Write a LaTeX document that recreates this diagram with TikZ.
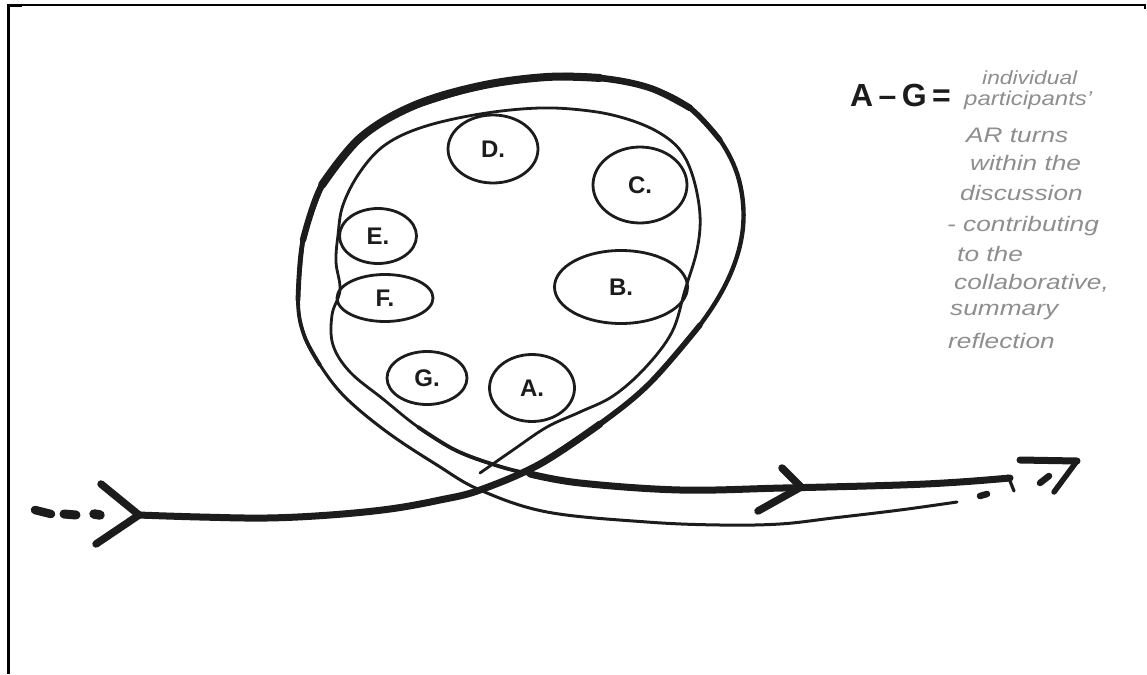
\documentclass[tikz,border=0pt]{standalone}
\usepackage{fontspec}
\setmainfont{Liberation Sans}
\usetikzlibrary{shapes.geometric}
\definecolor{ink}{HTML}{1C1C1C}
\definecolor{pencil}{HTML}{8E8E8E}
\tikzset{
  strand/.style={draw=ink, line cap=round, line join=round},
  person/.style={ellipse, draw=ink, line width=2.8pt, inner sep=0pt,
     font=\fontsize{24}{26}\selectfont\bfseries, text=ink},
  handtext/.style={anchor=west, text=pencil, inner sep=0pt,
     font=\fontsize{21}{22}\selectfont\itshape},
  keytext/.style={anchor=west, text=ink, inner sep=0pt,
     font=\fontsize{32}{34}\selectfont\bfseries},
  frame/.style={draw=black, line cap=butt}
}
\begin{document}
\begin{tikzpicture}[x=1pt,y=-1pt]
\useasboundingbox (0,0) rectangle (1147,674);
\fill[white] (0,0) rectangle (1147,674);
% frame
\draw[frame, line width=1.6pt] (7,5) -- (1146,5);
\draw[frame, line width=3pt] (8,4) -- (8,674);
\draw[frame, line width=2.6pt] (7,6) -- (22,6);
\draw[frame, line width=2pt] (1145,4) -- (1145,9);

% participants
\node[person, minimum width=90pt, minimum height=68pt] (D) at (493,149) {D.};
\node[person, minimum width=94pt, minimum height=76pt] (C) at (640,185) {C.};
\node[person, minimum width=77pt, minimum height=55pt] (E) at (378,236) {E.};
\node[person, minimum width=96pt, minimum height=47pt] (F) at (385,298) {F.};
\node[person, minimum width=133pt, minimum height=73pt] (B) at (621,287) {B.};
\node[person, minimum width=80pt, minimum height=53pt] (G) at (427,378) {G.};
\node[person, minimum width=85pt, minimum height=67pt] (A) at (532,388) {A.};

% outer strand (whole, thin)
\draw[strand, line width=3pt] plot[smooth, tension=0.6] coordinates {
 (138,515) (200,517) (267,518) (330,515) (390,509) (440,500) (480,490)
 (540,464) (600,424) (650,383) (700,325) (730,275) (743,227) (739,180)
 (720,140) (690,108) (650,88) (600,78) (547,77) (480,86) (413,106)
 (360,138) (322,185) (303,240) (298,300) (304,335) (320,365) (345,397)
 (387,432) (437,465) (480,490) (547,512) (647,522) (720,525) (780,524)
 (833,518) (900,510) (957,502)};
% thick horizontal part and rise
\draw[strand, line width=7pt] plot[smooth, tension=0.6] coordinates {
 (138,515) (200,517) (267,518) (330,515) (390,509) (440,500) (480,490)
 (540,464) (600,424)};
\draw[strand, line width=5.6pt] plot[smooth, tension=0.6] coordinates {
 (540,464) (600,424) (650,383) (700,325)};
\draw[strand, line width=4.4pt] plot[smooth, tension=0.6] coordinates {
 (650,383) (700,325) (730,275) (743,227) (739,180) (720,140) (690,108)};
% thick top-left
\draw[strand, line width=5.4pt] plot[smooth, tension=0.6] coordinates {
 (720,140) (690,108) (650,88) (600,78) (547,77) (480,86)};
\draw[strand, line width=6.6pt] plot[smooth, tension=0.6] coordinates {
 (690,108) (650,88) (600,78) (547,77) (480,86) (413,106)};
\draw[strand, line width=8pt] plot[smooth, tension=0.6] coordinates {
 (600,78) (547,77) (480,86) (413,106) (360,138) (322,185)};
\draw[strand, line width=6.4pt] plot[smooth, tension=0.6] coordinates {
 (360,138) (322,185) (303,240)};
\draw[strand, line width=4.8pt] plot[smooth, tension=0.6] coordinates {
 (322,185) (303,240) (298,300)};
\draw[strand, line width=3.8pt] plot[smooth, tension=0.6] coordinates {
 (303,240) (298,300) (304,335) (320,365)};

% inner strand (thin part)
\draw[strand, line width=2.8pt] plot[smooth, tension=0.6] coordinates {
 (480,473) (513,450) (547,427) (580,412) (613,396) (645,368) (672,332)
 (685,290) (697,250) (700,215) (693,177) (680,150) (658,132) (627,119)
 (590,111) (540,108) (480,114) (423,127) (385,145) (360,172) (343,205)
 (338,235) (336,262) (340,290) (332,315) (333,345) (350,372) (383,399)
 (418,427) (455,450) (495,465) (530,474) (580,483)};
% inner strand thick continuation
\draw[strand, line width=3.8pt] plot[smooth, tension=0.6] coordinates {
 (418,427) (455,450) (495,465) (530,474) (580,483)};
\draw[strand, line width=7pt] plot[smooth, tension=0.6] coordinates {
 (530,474) (580,483) (680,490) (783,488) (900,485) (960,482) (1010,478)};

% right chevron on inner strand
\coordinate (rv) at (801,487);
\draw[strand, line width=7.5pt] (782,468) -- (rv);
\draw[strand, line width=7.5pt] (758,511) -- (rv);
% end marks
\draw[strand, line width=3.2pt] (1008,476) -- (1014,491);
\draw[strand, line width=6.5pt] (980,496) -- (987,494);
\draw[strand, line width=6.5pt] (1040,483) -- (1049,476);
\coordinate (tip) at (1077,461);
\draw[strand, line width=7pt] (1020,460) -- (tip);
\draw[strand, line width=5.5pt] (tip) -- (1054,492);

% left chevron and dashes
\coordinate (lv) at (139,515);
\draw[strand, line width=7.5pt] (101,484) -- (lv);
\draw[strand, line width=7.5pt] (96,544) -- (lv);
\draw[strand, line width=8.5pt] (35,510) -- (51,514);
\draw[strand, line width=9pt] (64,514) -- (76,515);
\draw[strand, line width=9.5pt] (94,514) -- (100,515);

% key
\node[keytext] (key) at (850,95) {A\,–\,G\,=};
\node[handtext] (t1) at (982,78) {\scalebox{1.2}[1]{\fontsize{19}{20}\selectfont individual}};
\node[handtext] (t2) at (964,100) {\scalebox{1.2}[1]{\fontsize{20}{21}\selectfont participants'}};
\node[handtext] (t3) at (966,135) {\scalebox{1.25}[1]{AR turns}};
\node[handtext] (t4) at (970,163) {\scalebox{1.25}[1]{within the}};
\node[handtext] (t5) at (960,193) {\scalebox{1.25}[1]{discussion}};
\node[handtext] (t6) at (947,226) {\scalebox{1.25}[1]{- contributing}};
\node[handtext] (t7) at (957,254) {\scalebox{1.25}[1]{to the}};
\node[handtext] (t8) at (954,283) {\scalebox{1.25}[1]{collaborative,}};
\node[handtext] (t9) at (950,312) {\scalebox{1.25}[1]{summary}};
\node[handtext] (t10) at (948,341) {\scalebox{1.25}[1]{reflection}};
\end{tikzpicture}
\end{document}
